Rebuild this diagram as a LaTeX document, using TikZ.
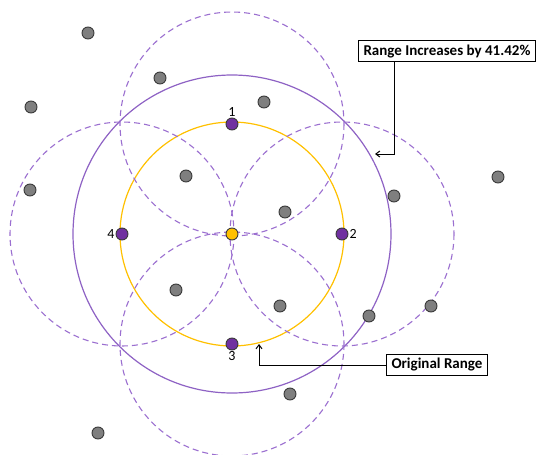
\documentclass[tikz,border=0pt]{standalone}
\usepackage{fontspec}
\setmainfont{Carlito}
\usetikzlibrary{arrows.meta}
\definecolor{violetdot}{HTML}{7030A0}
\definecolor{rangeline}{HTML}{8E62C4}
\definecolor{dashline}{HTML}{9B6FD0}
\definecolor{goldline}{HTML}{FFC000}
\definecolor{nodegray}{HTML}{7F7F7F}
\definecolor{edgegray}{HTML}{3A3A3A}
\tikzset{
  sensor/.style={circle,draw=edgegray,line width=0.9pt,fill=nodegray,minimum size=12pt,inner sep=0pt},
  anchordot/.style={circle,draw=edgegray,line width=0.9pt,fill=violetdot,minimum size=12pt,inner sep=0pt},
  hubdot/.style={circle,draw=edgegray,line width=0.9pt,fill=goldline,minimum size=12pt,inner sep=0pt},
  newrange/.style={dashline,line width=1.1pt,dash pattern=on 6pt off 4pt},
  oldrange/.style={goldline,line width=1.2pt},
  bigrange/.style={rangeline,line width=1.2pt},
  callout/.style={draw=black,line width=1pt,fill=white,inner xsep=5pt,inner ysep=4pt,font=\fontsize{15}{17}\selectfont\bfseries},
  pointer/.style={black,line width=1pt,-{Straight Barb[length=4pt,width=6pt]}},
  numlabel/.style={font=\fontsize{14}{16}\selectfont,inner sep=1pt}
}
\begin{document}
\begin{tikzpicture}[x=1pt,y=-1pt]
\useasboundingbox (0,0) rectangle (541,455);
% coverage circles
\coordinate (c) at (232,234);
\draw[bigrange] (c) circle[radius=159];
\draw[oldrange] (c) circle[radius=112];
\draw[newrange] (232,124) circle[radius=112];
\draw[newrange] (342,234) circle[radius=112];
\draw[newrange] (232,344) circle[radius=112];
\draw[newrange] (122,234) circle[radius=112];
% surrounding sensors
\foreach \p [count=\i] in {(88,33),(160,78),(264,102),(31,107),(30,190),(186,176),(285,212),(394,196),(498,177),(176,290),(280,306),(369,316),(431,306),(290,394),(98,433)}
  \node[sensor] (s\i) at \p {};
% anchor nodes
\node[hubdot] (hub) at (c) {};
\node[anchordot] (a1) at (232,124) {};
\node[anchordot] (a2) at (342,234) {};
\node[anchordot] (a3) at (232,344) {};
\node[anchordot] (a4) at (122,234) {};
\node[numlabel,above=0pt] at (a1.north) {1};
\node[numlabel,right=0pt] at (a2.east) {2};
\node[numlabel,below=0pt] at (a3.south) {3};
\node[numlabel,left=0pt] at (a4.west) {4};
% callouts
\node[callout,anchor=north west] (inc) at (358,40) {Range Increases by 41.42\%};
\node[callout,anchor=west] (orig) at (386,365) {Original Range};
\coordinate (incend) at (375,154);
\coordinate (origend) at (259,344);
\draw[pointer] (inc.south -| 394,0) |- (incend);
\draw[pointer] (orig.west) -| (origend);
\end{tikzpicture}
\end{document}
